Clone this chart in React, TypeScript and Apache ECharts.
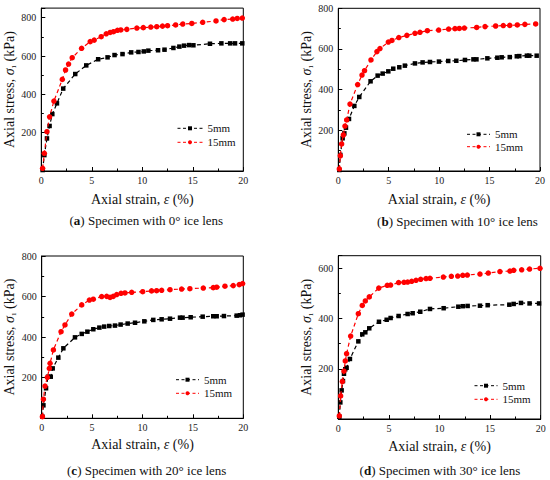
import React, { useEffect, useRef } from "react";
import * as echarts from "echarts";

const FONT = "'Liberation Serif', 'Times New Roman', serif";

// Panel (a) 0° ice lens — [axial strain %, axial stress kPa]
const a5mm: number[][] = [[0.13,5],[0.3,83],[0.56,170],[0.82,235],[1.09,297],[1.55,353],[2.17,430],[3.36,506],[4.45,551],[5.63,583],[6.56,593],[7.25,605],[8.04,610],[8.9,619],[9.62,621],[10.15,624],[10.6,628],[11.56,630],[12.2,633],[13.08,642],[13.67,649],[14.13,654],[14.63,657],[15.06,656],[16.7,664],[17.83,666],[18.7,666],[19.18,666],[19.9,666]];
const a15mm: number[][] = [[0.13,14],[0.3,92],[0.56,205],[0.82,283],[1.25,365],[2.08,478],[2.4,527],[2.7,558],[3.06,591],[3.99,640],[4.84,675],[5.24,683],[5.93,701],[6.43,716],[6.82,723],[7.15,727],[7.54,734],[7.87,736],[8.47,739],[9.46,746],[10.1,748],[10.84,751],[11.43,753],[12.0,756],[12.5,758],[13.3,762],[14.0,767],[14.9,770],[15.98,776],[17.3,783],[18.1,790],[18.95,793],[19.4,796],[19.9,798]];

// Panel (b) 10° ice lens
const b5mm: number[][] = [[0.1,5],[0.2,79],[0.43,161],[0.6,185],[0.76,213],[1.06,256],[1.59,320],[2.08,364],[3.2,441],[3.9,469],[4.4,479],[4.96,490],[5.45,503],[6.05,510],[6.6,518],[7.6,529],[8.36,534],[9.09,536],[9.98,538],[10.9,541],[11.7,542],[12.56,546],[13.4,549],[13.7,549],[14.78,554],[15.77,557],[16.2,559],[17.0,560],[17.7,564],[17.95,565],[18.7,567],[18.94,567],[19.67,567]];
const b15mm: number[][] = [[0.1,10],[0.2,75],[0.33,133],[0.5,177],[0.66,221],[0.83,251],[1.16,329],[1.92,425],[2.35,472],[2.6,493],[3.24,546],[3.83,587],[4.13,602],[4.96,634],[5.32,642],[6.0,656],[6.8,667],[7.6,677],[8.1,682],[8.83,690],[9.95,693],[10.94,698],[11.57,700],[12.0,701],[12.5,703],[13.72,706],[14.55,710],[15.6,713],[16.36,715],[17.0,716],[17.75,718],[18.5,721],[19.57,723]];

// Panel (c) 20° ice lens
const c5mm: number[][] = [[0.07,8],[0.17,64],[0.43,148],[0.63,205],[0.9,205],[1.09,246],[1.65,299],[2.15,345],[3.3,399],[3.97,416],[4.53,427],[5.12,439],[5.72,447],[6.2,452],[6.7,455],[7.27,457],[7.83,462],[8.53,467],[9.26,471],[10.18,478],[11.07,485],[11.9,488],[12.73,491],[13.72,496],[13.98,496],[14.78,498],[15.97,501],[17.02,503],[17.36,503],[18.08,504],[19.34,506],[19.67,508],[19.93,511]];
const c15mm: number[][] = [[0.07,8],[0.17,94],[0.33,159],[0.56,202],[0.76,246],[0.83,271],[1.16,337],[1.92,427],[2.31,460],[2.98,514],[3.97,559],[4.73,583],[5.12,587],[5.95,600],[6.45,601],[6.78,596],[7.1,601],[7.44,610],[7.87,616],[8.26,618],[8.93,621],[10.02,624],[10.9,628],[11.4,629],[11.9,631],[12.73,634],[13.88,637],[14.7,639],[16.03,642],[17.02,644],[17.36,646],[18.18,651],[19.0,654],[19.6,659],[19.93,664]];

// Panel (d) 30° ice lens
const d5mm: number[][] = [[0.1,9],[0.2,66],[0.33,114],[0.46,151],[0.56,180],[0.69,198],[0.82,204],[1.15,239],[1.98,309],[2.37,337],[2.67,345],[3.06,361],[4.02,387],[4.78,395],[5.17,402],[5.96,410],[6.85,418],[7.35,421],[8.1,427],[9.06,438],[10.41,441],[11.86,447],[12.3,449],[12.78,450],[14.0,451],[14.76,453],[16.9,455],[17.33,458],[18.05,462],[18.9,460],[19.84,460]];
const d15mm: number[][] = [[0.1,12],[0.23,92],[0.4,149],[0.56,191],[0.69,231],[0.82,260],[1.22,330],[1.98,419],[2.37,452],[2.67,470],[3.06,486],[4.0,521],[4.84,532],[5.17,533],[5.96,543],[6.49,544],[6.85,545],[7.25,548],[7.68,552],[8.14,556],[8.67,559],[9.06,560],[10.38,565],[11.17,568],[11.8,569],[12.3,572],[12.75,573],[14.0,577],[14.82,581],[15.97,587],[16.96,589],[17.33,592],[18.12,594],[18.9,597],[19.93,600]];

const seriesNames = ["5mm", "15mm"];
const captionLetters = ["a", "b", "c", "d"];
const captionAngles = ["0°", "10°", "20°", "30°"];
const yMaxes = [850, 800, 800, 650];
const xTitle = "Axial strain, {i|ε} (%)";
const yTitle = "Axial stress, {i|σ}{s|1} (kPa)";

const panelData = [
  [a5mm, a15mm],
  [b5mm, b15mm],
  [c5mm, c15mm],
  [d5mm, d15mm],
];

// layout (pixels)
const grids = [
  { left: 41.3, top: 8.1, width: 202, height: 162.9 },
  { left: 338.3, top: 8.3, width: 201.7, height: 162.7 },
  { left: 41.7, top: 256, width: 201.6, height: 162.3 },
  { left: 338.3, top: 255.7, width: 202.4, height: 163.3 },
];
const xNameGaps = [21, 21, 19.5, 20.5];
const yNameGaps = [22, 23, 23, 20];
const legendPos = [
  { left: 177, top: 122.3, gap: 2.0, w: 25 },
  { left: 466.5, top: 128.3, gap: 0.4, w: 23 },
  { left: 175.5, top: 373.7, gap: 1.6, w: 23 },
  { left: 474, top: 379.7, gap: 1.6, w: 23 },
];
const captionPos = [
  [146.3, 220],
  [457.5, 221.7],
  [146.7, 470],
  [440, 470],
];

const colors = ["#000000", "#ff0000"];
const symbols = ["rect", "circle"];
const symbolSizes = [4.5, 5.5];

function buildOption() {
  const richName = {
    i: { fontFamily: FONT, fontSize: 14, fontStyle: "italic", color: "#111" },
    s: { fontFamily: FONT, fontSize: 7, color: "#111", verticalAlign: "bottom", lineHeight: 16 },
  };
  const option: any = {
    animation: false,
    backgroundColor: "#ffffff",
    textStyle: { fontFamily: FONT },
    grid: grids.map((g) => ({
      ...g,
      show: true,
      borderColor: "#000",
      borderWidth: 1,
      backgroundColor: "transparent",
      containLabel: false,
    })),
    xAxis: grids.map((_, i) => ({
      type: "value",
      gridIndex: i,
      min: 0,
      max: 20,
      interval: 5,
      name: xTitle,
      nameLocation: "middle",
      nameGap: xNameGaps[i],
      nameTextStyle: { fontFamily: FONT, fontSize: 14, color: "#111", rich: richName },
      axisLine: { show: true, lineStyle: { color: "#000", width: 1 } },
      axisTick: { show: true, inside: true, length: 4, lineStyle: { color: "#000" } },
      minorTick: { show: true, splitNumber: 2, length: 2.5, lineStyle: { color: "#000" } },
      splitLine: { show: false },
      axisLabel: { fontFamily: FONT, fontSize: 10, color: "#222", margin: 4 },
    })),
    yAxis: grids.map((_, i) => ({
      type: "value",
      gridIndex: i,
      min: 0,
      max: yMaxes[i],
      interval: 200,
      name: yTitle,
      nameLocation: "middle",
      nameGap: yNameGaps[i],
      nameTextStyle: { fontFamily: FONT, fontSize: 14, color: "#111", rich: richName },
      axisLine: { show: true, lineStyle: { color: "#000", width: 1 } },
      axisTick: { show: true, inside: true, length: 4, lineStyle: { color: "#000" } },
      minorTick: { show: true, splitNumber: 2, length: 2.5, lineStyle: { color: "#000" } },
      splitLine: { show: false },
      axisLabel: {
        fontFamily: FONT,
        fontSize: 10,
        color: "#222",
        margin: 5,
        formatter: (v: number) => (v !== 0 && v % 200 === 0 ? String(v) : ""),
      },
    })),
    legend: legendPos.map((p) => ({
      orient: "vertical",
      left: p.left,
      top: p.top,
      itemGap: p.gap,
      itemWidth: p.w,
      itemHeight: 5,
      padding: 0,
      data: seriesNames,
      selectedMode: false,
      lineStyle: { width: 1, type: [3, 2.5] },
      textStyle: { fontFamily: FONT, fontSize: 11, color: "#111", lineHeight: 12 },
    })),
    series: [] as any[],
    graphic: captionPos.map((c, i) => ({
      type: "text",
      x: c[0],
      y: c[1],
      style: {
        text: "({b|" + captionLetters[i] + "}) Specimen with " + captionAngles[i] + " ice lens",
        fontFamily: FONT,
        fontSize: 13,
        fill: "#111",
        align: "center",
        verticalAlign: "middle",
        rich: {
          b: { fontFamily: FONT, fontSize: 13, fontWeight: "bold", fill: "#111" },
        },
      },
    })),
  };
  panelData.forEach((pair, i) => {
    pair.forEach((data, k) => {
      option.series.push({
        type: "line",
        name: seriesNames[k],
        xAxisIndex: i,
        yAxisIndex: i,
        data: data,
        symbol: symbols[k],
        symbolSize: symbolSizes[k],
        showSymbol: true,
        itemStyle: { color: colors[k] },
        lineStyle: { color: colors[k], width: 1.2, type: [4, 3] },
        emphasis: { disabled: true },
        z: 3 + k,
      });
    });
  });
  return option;
}

export default function App() {
  const ref = useRef<HTMLDivElement>(null);
  useEffect(() => {
    if (!ref.current) return;
    const chart = echarts.init(ref.current, undefined, { renderer: "svg" });
    chart.setOption(buildOption());
    return () => chart.dispose();
  }, []);
  return (
    <div
      ref={ref}
      style={{ position: "absolute", left: 0, top: 0, width: 550, height: 480, background: "#fff" }}
    />
  );
}
